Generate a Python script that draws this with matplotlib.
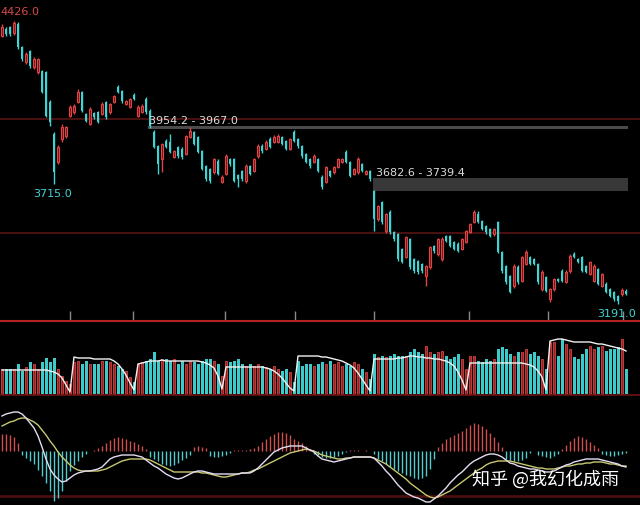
import numpy as np
import matplotlib
matplotlib.use("Agg")
import matplotlib.pyplot as plt
from matplotlib.lines import Line2D
from matplotlib.transforms import blended_transform_factory

plt.rcParams["font.family"] = ["DejaVu Sans"]

# ---- daily bars (price points) ----
opens = [4361, 4391, 4400, 4374, 4413, 4313, 4247, 4295, 4225, 4204,
         4208, 4204, 4073, 3933, 3811, 3911, 3924, 4012, 4029, 4073,
         4116, 4020, 3977, 4024, 4029, 4020, 4073, 4029, 4073, 4138,
         4120, 4064, 4051, 4103, 4012, 4029, 4086, 4033, 3942, 3881,
         3824, 3902, 3898, 3833, 3876, 3868, 3846, 3920, 3942, 3920,
         3859, 3793, 3780, 3767, 3815, 3722, 3759, 3824, 3824, 3755,
         3772, 3728, 3793, 3772, 3837, 3881, 3868, 3911, 3898, 3898,
         3920, 3902, 3868, 3942, 3911, 3881, 3846, 3824, 3811, 3824,
         3746, 3724, 3772, 3767, 3789, 3811, 3855, 3811, 3759, 3767,
         3802, 3759, 3772, 3684, 3562, 3636, 3510, 3593, 3505, 3497,
         3431, 3396, 3475, 3388, 3379, 3366, 3313, 3353, 3444, 3409,
         3388, 3488, 3488, 3462, 3453, 3431, 3462, 3505, 3549, 3584,
         3553, 3531, 3518, 3497, 3549, 3418, 3357, 3313, 3270, 3353,
         3292, 3366, 3396, 3388, 3366, 3257, 3309, 3213, 3257, 3300,
         3335, 3287, 3335, 3409, 3388, 3396, 3357, 3322, 3292, 3344,
         3270, 3279, 3257, 3244, 3226, 3235, 3248]
highs = [4413, 4400, 4405, 4426.0, 4420, 4318, 4290, 4300, 4268, 4265,
         4212, 4210, 4080, 3940, 3885, 3975, 3970, 4058, 4062, 4129,
         4122, 4026, 4050, 4030, 4035, 4072, 4078, 4070, 4105, 4145,
         4125, 4082, 4092, 4110, 4058, 4062, 4095, 4040, 3950, 3885,
         3895, 3910, 3933, 3865, 3882, 3875, 3930, 3964, 3948, 3926,
         3864, 3798, 3786, 3830, 3822, 3752, 3845, 3830, 3830, 3760,
         3778, 3800, 3798, 3830, 3888, 3888, 3905, 3918, 3928, 3933,
         3926, 3908, 3916, 3950, 3916, 3886, 3852, 3830, 3844, 3830,
         3752, 3795, 3778, 3795, 3830, 3830, 3862, 3816, 3786, 3833,
         3808, 3778, 3778, 3690, 3625, 3642, 3590, 3600, 3510, 3502,
         3437, 3490, 3480, 3394, 3385, 3372, 3362, 3446, 3450, 3480,
         3482, 3494, 3494, 3468, 3460, 3480, 3516, 3546, 3600, 3598,
         3558, 3536, 3524, 3524, 3555, 3424, 3362, 3318, 3364, 3360,
         3402, 3426, 3402, 3394, 3372, 3338, 3315, 3263, 3306, 3306,
         3342, 3338, 3408, 3418, 3394, 3402, 3362, 3380, 3364, 3350,
         3328, 3285, 3262, 3250, 3232, 3262, 3258]
lows = [4355, 4361, 4360, 4365, 4305, 4250, 4240, 4222, 4215, 4195,
        4110, 4005, 3968, 3715.0, 3800, 3900, 3915, 4005, 4022, 4068,
        4028, 3985, 3972, 3998, 3980, 4015, 4000, 4022, 4068, 4110,
        4070, 4058, 4045, 4080, 4005, 4024, 4022, 3960, 3870, 3759,
        3767, 3870, 3850, 3828, 3830, 3826, 3840, 3915, 3884, 3850,
        3775, 3730, 3720, 3760, 3752, 3717, 3752, 3795, 3722, 3702,
        3730, 3720, 3752, 3766, 3830, 3852, 3862, 3870, 3892, 3892,
        3884, 3862, 3862, 3896, 3874, 3830, 3805, 3786, 3805, 3765,
        3695, 3718, 3744, 3760, 3783, 3805, 3805, 3744, 3752, 3760,
        3766, 3752, 3730, 3510, 3555, 3542, 3503, 3498, 3468, 3380,
        3368, 3390, 3346, 3328, 3324, 3328, 3270, 3346, 3415, 3402,
        3380, 3460, 3438, 3425, 3416, 3425, 3456, 3500, 3544, 3543,
        3512, 3498, 3482, 3490, 3412, 3328, 3280, 3238, 3262, 3280,
        3286, 3360, 3360, 3360, 3280, 3250, 3242, 3200, 3250, 3286,
        3286, 3282, 3328, 3390, 3368, 3330, 3325, 3316, 3286, 3272,
        3264, 3238, 3220, 3206, 3191.0, 3228, 3230]
closes = [4400, 4369, 4369, 4417, 4313, 4260, 4282, 4230, 4260, 4260,
          4116, 4012, 3985, 3767, 3876, 3964, 3964, 4051, 4055, 4116,
          4033, 3990, 4042, 4007, 3985, 4064, 4007, 4064, 4099, 4116,
          4077, 4077, 4086, 4086, 4051, 4055, 4029, 3968, 3876, 3802,
          3889, 3876, 3855, 3859, 3837, 3833, 3924, 3946, 3889, 3855,
          3780, 3737, 3728, 3824, 3759, 3746, 3837, 3802, 3728, 3737,
          3737, 3793, 3759, 3824, 3881, 3859, 3898, 3876, 3920, 3924,
          3889, 3868, 3911, 3902, 3881, 3837, 3811, 3793, 3837, 3772,
          3702, 3789, 3750, 3789, 3824, 3824, 3811, 3750, 3780, 3824,
          3772, 3772, 3737, 3562, 3619, 3549, 3584, 3505, 3475, 3388,
          3375, 3484, 3353, 3335, 3331, 3335, 3357, 3440, 3422, 3475,
          3475, 3466, 3444, 3431, 3422, 3475, 3510, 3540, 3593, 3549,
          3518, 3505, 3488, 3518, 3418, 3335, 3287, 3244, 3357, 3287,
          3396, 3418, 3366, 3366, 3287, 3331, 3248, 3257, 3300, 3292,
          3292, 3331, 3401, 3396, 3375, 3335, 3331, 3375, 3357, 3279,
          3322, 3244, 3226, 3213, 3204, 3252, 3235]

# ---- volume (thousand lots) and its moving average ----
volume = [25, 25, 25, 25, 30, 23, 27, 32, 30, 25,
          32, 36, 32, 36, 25, 18, 13, 10, 32, 33,
          30, 33, 30, 30, 30, 33, 33, 32, 30, 28,
          25, 23, 17, 12, 30, 32, 33, 35, 42, 33,
          35, 35, 33, 35, 30, 33, 30, 33, 32, 30,
          33, 35, 35, 33, 30, 18, 33, 32, 33, 35,
          30, 28, 30, 28, 30, 28, 27, 25, 28, 25,
          23, 25, 22, 12, 33, 28, 30, 30, 28, 30,
          32, 30, 33, 30, 32, 28, 30, 28, 32, 30,
          25, 22, 15, 40, 37, 38, 37, 38, 40, 38,
          38, 38, 42, 45, 42, 40, 48, 42, 40, 42,
          43, 38, 35, 37, 40, 35, 25, 38, 38, 33,
          32, 35, 33, 35, 45, 47, 45, 40, 38, 42,
          42, 45, 40, 42, 38, 35, 25, 52, 52, 38,
          55, 50, 45, 37, 35, 40, 45, 48, 45, 47,
          48, 43, 45, 45, 47, 55, 25]
volume_ma = [24, 24, 24, 24, 24, 24, 24, 24, 24, 24,
             24, 24, 23, 22, 20, 16, 9, 2, 37, 36,
             36, 36, 36, 35, 35, 35, 35, 35, 33, 30,
             25, 19, 11, 4, 30, 31, 32, 33, 33, 33,
             34, 33, 33, 33, 33, 33, 33, 33, 33, 33,
             32, 31, 29, 26, 18, 5, 27, 27, 27, 27,
             27, 27, 27, 27, 27, 27, 26, 25, 23, 20,
             16, 11, 6, 3, 38, 38, 38, 38, 38, 38,
             37, 37, 36, 35, 34, 33, 31, 29, 26, 21,
             15, 9, 3, 35, 35, 35, 35, 35, 35, 36,
             36, 37, 38, 38, 37, 37, 36, 36, 35, 35,
             34, 33, 31, 28, 22, 14, 4, 31, 31, 31,
             31, 31, 31, 31, 31, 31, 31, 31, 31, 31,
             31, 30, 29, 27, 23, 17, 4, 53, 54, 55,
             55, 54, 53, 52, 52, 52, 52, 52, 51, 50,
             50, 49, 48, 47, 46, 45, 43]

# ---- MACD ----
dif = [70, 74, 76, 78, 78, 74, 66, 56, 46, 30,
       8, -16, -36, -48, -56, -62, -60, -54, -48, -44,
       -42, -40, -40, -38, -36, -32, -24, -16, -12, -10,
       -8, -8, -8, -8, -10, -12, -18, -24, -30, -34,
       -40, -46, -50, -54, -56, -54, -50, -46, -42, -40,
       -40, -42, -44, -46, -46, -46, -46, -46, -46, -46,
       -44, -44, -44, -40, -34, -26, -18, -10, -2, 2,
       6, 8, 10, 10, 10, 10, 6, 2, -2, -10,
       -16, -18, -20, -22, -20, -18, -16, -14, -12, -12,
       -12, -12, -12, -14, -22, -30, -40, -48, -58, -68,
       -76, -84, -88, -92, -94, -98, -102, -102, -96, -90,
       -82, -74, -64, -56, -48, -42, -34, -26, -20, -16,
       -12, -8, -6, -6, -8, -12, -18, -24, -26, -30,
       -32, -34, -36, -36, -38, -40, -42, -42, -40, -36,
       -32, -28, -26, -22, -20, -18, -16, -16, -16, -16,
       -18, -20, -22, -24, -26, -30, -32]
dea = [50, 54, 58, 60, 64, 66, 66, 62, 58, 52,
       42, 32, 20, 10, -2, -12, -20, -28, -34, -38,
       -40, -40, -40, -40, -40, -38, -36, -32, -28, -24,
       -20, -18, -16, -16, -16, -16, -16, -18, -22, -26,
       -30, -34, -38, -42, -42, -42, -42, -42, -42, -42,
       -44, -44, -46, -48, -50, -52, -52, -50, -48, -46,
       -44, -44, -42, -38, -36, -32, -28, -24, -20, -16,
       -12, -8, -4, -2, 0, 2, 4, 2, 0, -4,
       -8, -10, -12, -14, -16, -16, -14, -14, -12, -12,
       -12, -12, -12, -14, -18, -22, -26, -32, -38, -44,
       -50, -56, -64, -70, -76, -82, -88, -92, -94, -92,
       -88, -84, -80, -74, -68, -62, -56, -50, -44, -38,
       -34, -28, -24, -22, -20, -20, -20, -20, -22, -24,
       -26, -28, -30, -32, -34, -34, -36, -36, -36, -34,
       -32, -30, -30, -28, -26, -26, -24, -24, -22, -22,
       -22, -24, -26, -26, -28, -30, -30]
macd_hist = [34, 34, 32, 28, 16, -8, -14, -20, -26, -38,
             -50, -64, -80, -100, -94, -80, -60, -40, -28, -20,
             -12, -6, 0, 2, 6, 10, 16, 22, 26, 28,
             26, 24, 20, 18, 14, 10, 4, -12, -16, -20,
             -26, -28, -30, -28, -24, -18, -14, -8, 8, 10,
             8, 6, -10, -12, -12, -10, -8, -4, 2, 2,
             2, 2, 4, 6, 10, 18, 24, 30, 34, 38,
             38, 36, 32, 24, 20, 16, 10, 4, -6, -8,
             -12, -14, -14, -12, -10, -6, -2, 2, 2, 2,
             0, 2, 0, -6, -16, -20, -26, -32, -36, -40,
             -44, -48, -50, -54, -56, -54, -50, -36, -16, 8,
             16, 24, 28, 32, 36, 40, 46, 52, 56, 54,
             50, 44, 36, 28, 18, 8, -16, -18, -20, -20,
             -18, -14, -4, 0, -8, -10, -12, -14, -10, -6,
             4, 12, 20, 26, 30, 28, 24, 18, 12, 6,
             -6, -8, -10, -10, -8, -6, -4]

# price zones: (low, high, first bar index)
zone_low = [3954.2, 3682.6]
zone_high = [3967.0, 3739.4]
zone_start = [36.5, 92.75]
# session boundary markers along the time axis (bar index)
session_marks = [17, 32.75, 55.75, 73.25, 93, 116.75, 136.5, 155.25]

for name, arr in [("highs", highs), ("lows", lows), ("closes", closes),
                  ("volume", volume), ("volume_ma", volume_ma), ("dif", dif),
                  ("dea", dea), ("macd_hist", macd_hist)]:
    assert len(arr) == len(opens), (name, len(arr))

o = np.array(opens, float)
h = np.array(highs, float)
l = np.array(lows, float)
c = np.array(closes, float)
n = len(o)
x = np.arange(n)
up = c >= o

RED = "#e04444"
RED_FILL = "#6a1616"
CYAN = "#40d4d4"
BG = "black"

W, H = 640, 506
fig = plt.figure(figsize=(W / 100, H / 100), dpi=100, facecolor=BG)
ax_p = fig.add_axes([0, 184 / H, 1, 322 / H])
ax_v = fig.add_axes([0, 110 / H, 1, 74 / H])
ax_m = fig.add_axes([0, 0, 1, 110 / H])
for ax in (ax_p, ax_v, ax_m):
    ax.set_facecolor(BG)
    ax.set_xlim(-0.5, 159.5)
    for s in ax.spines.values():
        s.set_visible(False)
    ax.set_xticks([])
    ax.set_yticks([])

# ---- price panel ----
ax_p.set_ylim(3117, 4522)
for lvl in (4000, 3500):
    ax_p.axhline(lvl, color="#5a1414", lw=1.2, zorder=0)

for zl, zh, zs in zip(zone_low, zone_high, zone_start):
    ax_p.fill_between([zs, 156.5], zl, zh, color="#4a4a4a" if zh - zl < 20 else "#383838",
                      lw=0, zorder=1)
ax_p.text(zone_start[0] + 0.2, 3994, f"{zone_low[0]:.1f} - {zone_high[0]:.1f}",
          color="#dcdcdc", fontsize=8, va="center", ha="left", zorder=5)
ax_p.text(zone_start[1] + 0.7, 3767, f"{zone_low[1]:.1f} - {zone_high[1]:.1f}",
          color="#dcdcdc", fontsize=8, va="center", ha="left", zorder=5)

wick_col = np.where(up, RED, CYAN)
ax_p.vlines(x, l, h, colors=wick_col, lw=1.0, zorder=2)
body_bot = np.minimum(o, c)
body_h = np.maximum(np.abs(c - o), 3.0)
ax_p.bar(x[~up], body_h[~up], bottom=body_bot[~up], width=0.72,
         color=CYAN, lw=0, zorder=3)
ax_p.bar(x[up], body_h[up], bottom=body_bot[up], width=0.62,
         facecolor=RED_FILL, edgecolor=RED, lw=0.8, zorder=3)

i_hi = int(np.argmax(h))
i_lo = int(np.argmin(l))
ax_p.text(-0.45, h[i_hi] + 44, f"{h[i_hi]:.1f}", color="#d84848",
          fontsize=8, ha="left", va="center")
ax_p.text(13 - 5.25, 3676, f"{lows[13]:.1f}", color=CYAN, fontsize=8,
          ha="left", va="center")
ax_p.text(i_lo - 5.25, 3152, f"{l[i_lo]:.1f}", color=CYAN, fontsize=8,
          ha="left", va="center")

tr = blended_transform_factory(ax_p.transData, ax_p.transAxes)
ax_p.vlines(session_marks, 0, 10 / 322, colors="#8a8a8a", lw=1, transform=tr)

# ---- volume panel ----
v = np.array(volume, float)
ax_v.set_ylim(-1, 73)
ax_v.bar(x[~up], v[~up], width=0.75, color="#3ccaca", lw=0)
ax_v.bar(x[up], v[up], width=0.62, facecolor="#8c2222", edgecolor="#c83a3a", lw=0.7)
ax_v.plot(x, volume_ma, color="#f2f2f2", lw=1.0)

# ---- MACD panel ----
mh = np.array(macd_hist, float)
ax_m.set_ylim(-108, 112)
ax_m.axhline(-90, color="#4c0e0e", lw=2.0, zorder=0)
ax_m.vlines(x[mh > 0], 0, mh[mh > 0], colors="#d05050", lw=1.0)
ax_m.vlines(x[mh < 0], 0, mh[mh < 0], colors="#50cccc", lw=1.0)
ax_m.plot(x, dea, color="#c8c870", lw=1.0)
ax_m.plot(x, dif, color="#e4dcf2", lw=1.0)

# panel separators
fig.add_artist(Line2D([0, 1], [184 / H, 184 / H], color="#b42222", lw=1.5))
fig.add_artist(Line2D([0, 1], [110 / H, 110 / H], color="#6e1414", lw=1.2))

fig.text(546 / W, 1 - 479 / H, "知乎 @我幻化成雨", color="white", fontsize=13,
         ha="center", va="center", family=["Noto Sans CJK SC", "DejaVu Sans"])

fig.savefig("out.png", dpi=100, facecolor=BG)
